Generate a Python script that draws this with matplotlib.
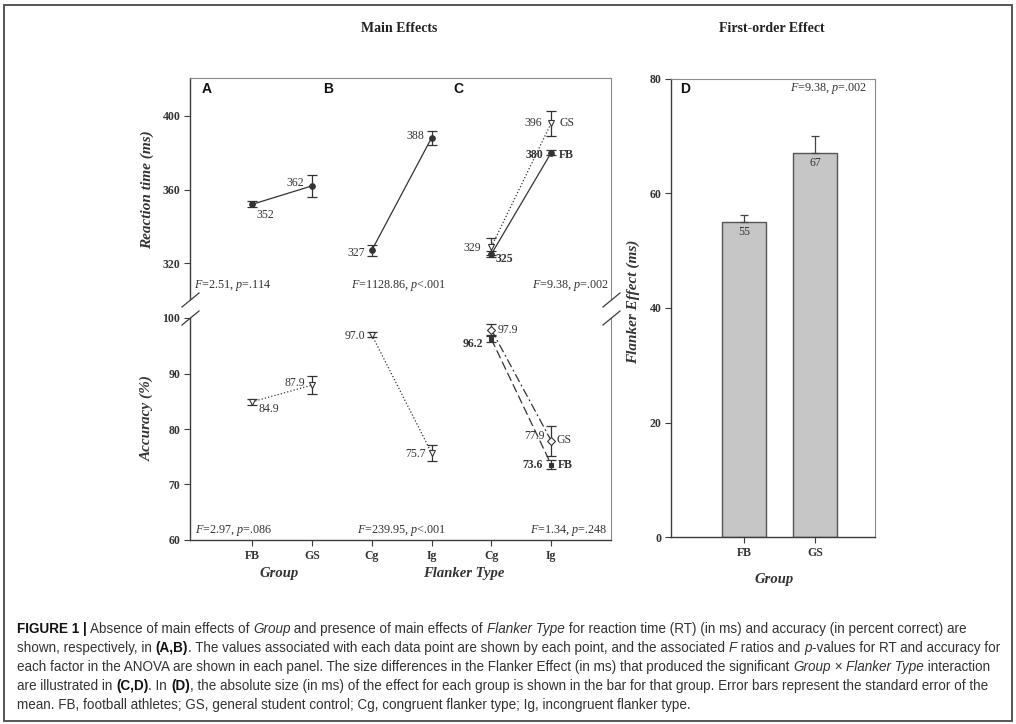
"""Main effects and first-order effect figure (flanker task, FB vs GS)."""

import matplotlib
matplotlib.use('Agg')
import matplotlib.pyplot as plt
from matplotlib import font_manager
from matplotlib.lines import Line2D
from matplotlib.patches import Rectangle

W, H = 1016, 724

# ---- data -------------------------------------------------------------
groups = ['FB', 'GS']
flanker_types = ['Cg', 'Ig']

rt_group = [352, 362]
rt_group_se = [1.6, 6.0]
rt_flanker = [327, 388]
rt_flanker_se = [3.2, 4.0]
rt_fb = [325, 380]
rt_fb_se = [1.5, 1.5]
rt_gs = [329, 396]
rt_gs_se = [4.5, 6.7]

acc_group = [84.9, 87.9]
acc_group_se = [0.5, 1.6]
acc_flanker = [97.0, 75.7]
acc_flanker_se = [0.4, 1.4]
acc_fb = [96.2, 73.6]
acc_fb_se = [0.5, 0.8]
acc_gs = [97.9, 77.9]
acc_gs_se = [1.0, 2.7]

flanker_effect = [55, 67]
flanker_effect_se = [1.3, 3.0]

rt_stats = [('2.51', '=.114'), ('1128.86', '<.001'), ('9.38', '=.002')]
acc_stats = [('2.97', '=.086'), ('239.95', '<.001'), ('1.34', '=.248')]
d_stats = ('9.38', '=.002')

rt_ticks = [320, 360, 400]
acc_ticks = [60, 70, 80, 90, 100]
d_ticks = [0, 20, 40, 60, 80]

caption_lines = [
    [('FIGURE 1 |', 'b'), (' Absence of main effects of ', 'r'), ('Group', 'i'),
     (' and presence of main effects of ', 'r'), ('Flanker Type', 'i'),
     (' for reaction time (RT) (in ms) and accuracy (in percent correct) are', 'r')],
    [('shown, respectively, in ', 'r'), ('(A,B)', 'b'),
     ('. The values associated with each data point are shown by each point, and the associated ', 'r'),
     ('F', 'i'), (' ratios and ', 'r'), ('p', 'i'), ('-values for RT and accuracy for', 'r')],
    [('each factor in the ANOVA are shown in each panel. The size differences in the Flanker Effect '
      '(in ms) that produced the significant ', 'r'), ('Group', 'i'), (' \u00d7 ', 'r'),
     ('Flanker Type', 'i'), (' interaction', 'r')],
    [('are illustrated in ', 'r'), ('(C,D)', 'b'), ('. In ', 'r'), ('(D)', 'b'),
     (', the absolute size (in ms) of the effect for each group is shown in the bar for that group. '
      'Error bars represent the standard error of the', 'r')],
    [('mean. FB, football athletes; GS, general student control; Cg, congruent flanker type; '
      'Ig, incongruent flanker type.', 'r')],
]

# ---- style ------------------------------------------------------------
plt.rcParams['font.family'] = ['Liberation Serif', 'DejaVu Serif']
plt.rcParams['mathtext.fontset'] = 'custom'
plt.rcParams['mathtext.rm'] = 'Liberation Serif'
plt.rcParams['mathtext.it'] = 'Liberation Serif:italic'
plt.rcParams['mathtext.bf'] = 'Liberation Serif:bold'

INK = '#333333'
SPINE = '#3c3c3c'
FRAME = '#8a8a8a'

fig = plt.figure(figsize=(W / 100, H / 100), dpi=100)
fig.patch.set_facecolor('white')


def add_px_axes(left, top, right, bottom):
    return fig.add_axes([left / W, 1 - bottom / H, (right - left) / W, (bottom - top) / H])


def ftext(x, y, s, **kw):
    return fig.text(x / W, 1 - y / H, s, **kw)


def style_axis(ax):
    for side in ['top', 'right', 'bottom', 'left']:
        ax.spines[side].set_color(FRAME)
        ax.spines[side].set_linewidth(0.8)
    for side in ['left', 'bottom']:
        ax.spines[side].set_color(SPINE)
        ax.spines[side].set_linewidth(1.0)
    ax.tick_params(direction='out', length=4, width=0.8, color=SPINE,
                   labelsize=8.5, labelcolor=INK, pad=3)
    ax.set_facecolor('none')


def series(ax, xs, vals, se, ls, marker, filled, ms=4.5, dashes=None):
    ax.errorbar(xs, vals, yerr=se, fmt='none', ecolor=INK, elinewidth=0.9,
                capsize=3.5, capthick=0.9, zorder=2)
    line, = ax.plot(xs, vals, ls=ls, color=INK, lw=0.9, zorder=3)
    if dashes is not None:
        line.set_dashes(dashes)
    ax.plot(xs, vals, ls='none', marker=marker, ms=ms, mfc=INK if filled else 'white',
            mec=INK, mew=0.8, zorder=4)


def label(ax, x, y, s, dx, dy, ha, bold=False):
    ax.annotate(s, (x, y), xytext=(dx, -dy), textcoords='offset pixels', ha=ha, va='center',
                fontsize=8.5, color=INK, fontweight='bold' if bold else 'normal')


def stat_text(x, y, stat, ha):
    f_val, p_val = stat
    ftext(x, y, '$F$=' + f_val + ', $p$' + p_val, ha=ha, va='center', fontsize=8.7, color=INK)


# ---- panels A-C -----------------------------------------------------------
ax_rt = add_px_axes(190, 78, 611, 299)
ax_acc = add_px_axes(190, 318, 611, 540)
xlim = (-0.037, 7.0)

for ax in (ax_rt, ax_acc):
    style_axis(ax)
    ax.set_xlim(*xlim)

ax_rt.spines['bottom'].set_visible(False)
ax_rt.set_xticks([])
ax_rt.set_ylim(300.7, 420.5)
ax_rt.set_yticks(rt_ticks)
ax_rt.set_yticklabels([str(t) for t in rt_ticks], fontweight='bold')

ax_acc.spines['top'].set_visible(False)
ax_acc.set_ylim(60, 100)
ax_acc.set_yticks(acc_ticks)
ax_acc.set_yticklabels([str(t) for t in acc_ticks], fontweight='bold')
ax_acc.set_xticks([1, 2, 3, 4, 5, 6])
ax_acc.set_xticklabels(groups + flanker_types + flanker_types, fontweight='bold')

xa, xb, xc = [1, 2], [3, 4], [5, 6]

# reaction time
series(ax_rt, xa, rt_group, rt_group_se, '-', 'o', True, ms=4)
series(ax_rt, xb, rt_flanker, rt_flanker_se, '-', 'o', True, ms=4)
series(ax_rt, xc, rt_gs, rt_gs_se, ':', 'v', False, ms=4.5)
series(ax_rt, xc, rt_fb, rt_fb_se, '-', 'o', True, ms=4)

label(ax_rt, xa[0], rt_group[0], str(rt_group[0]), 4, 11, 'left')
label(ax_rt, xa[1], rt_group[1], str(rt_group[1]), -8, -3, 'right')
label(ax_rt, xb[0], rt_flanker[0], str(rt_flanker[0]), -7, 3, 'right')
label(ax_rt, xb[1], rt_flanker[1], str(rt_flanker[1]), -7, -2, 'right')
label(ax_rt, xc[1], rt_gs[1], str(rt_gs[1]), -9, 0, 'right')
label(ax_rt, xc[1], rt_gs[1], groups[1], 8, 0, 'left')
label(ax_rt, xc[1], rt_fb[1], str(rt_fb[1]), -8, 2, 'right', bold=True)
label(ax_rt, xc[1], rt_fb[1], groups[0], 8, 2, 'left', bold=True)
label(ax_rt, xc[0], rt_gs[0], str(rt_gs[0]), -10, 1, 'right')
label(ax_rt, xc[0], rt_fb[0], str(rt_fb[0]), 4, 5, 'left', bold=True)

# accuracy
series(ax_acc, xa, acc_group, acc_group_se, ':', 'v', False, ms=4.5)
series(ax_acc, xb, acc_flanker, acc_flanker_se, ':', 'v', False, ms=4.5)
series(ax_acc, xc, acc_fb, acc_fb_se, '--', 's', True, ms=3.5, dashes=(7, 3))
series(ax_acc, xc, acc_gs, acc_gs_se, '-.', 'D', False, ms=4, dashes=(7, 2.5, 1.5, 2.5))

label(ax_acc, xa[0], acc_group[0], f'{acc_group[0]:.1f}', 6, 7, 'left')
label(ax_acc, xa[1], acc_group[1], f'{acc_group[1]:.1f}', -7, -2, 'right')
label(ax_acc, xb[0], acc_flanker[0], f'{acc_flanker[0]:.1f}', -6, 1, 'right')
label(ax_acc, xb[1], acc_flanker[1], f'{acc_flanker[1]:.1f}', -6, 1, 'right')
label(ax_acc, xc[0], acc_gs[0], f'{acc_gs[0]:.1f}', 6, 0, 'left')
label(ax_acc, xc[0], acc_fb[0], f'{acc_fb[0]:.1f}', -8, 5, 'right', bold=True)
label(ax_acc, xc[1], acc_gs[1], f'{acc_gs[1]:.1f}', -6, -5, 'right')
label(ax_acc, xc[1], acc_gs[1], groups[1], 5, -1, 'left')
label(ax_acc, xc[1], acc_fb[1], f'{acc_fb[1]:.1f}', -8, 0, 'right', bold=True)
label(ax_acc, xc[1], acc_fb[1], groups[0], 7, 0, 'left', bold=True)

# axis breaks
for bx in (190, 611):
    for by in (300, 318):
        fig.add_artist(Line2D([(bx - 8) / W, (bx + 9) / W], [1 - (by + 7) / H, 1 - (by - 7) / H],
                              color=SPINE, lw=0.9))

# stats
stat_text(194, 285, rt_stats[0], 'left')
stat_text(446, 285, rt_stats[1], 'right')
stat_text(609, 285, rt_stats[2], 'right')
stat_text(195, 530, acc_stats[0], 'left')
stat_text(446, 530, acc_stats[1], 'right')
stat_text(607, 530, acc_stats[2], 'right')

# ---- panel D --------------------------------------------------------------
ax_d = add_px_axes(671, 79, 875, 537)
style_axis(ax_d)
xd = [0, 1]
ax_d.bar(xd, flanker_effect, width=0.62, color='#c6c6c6', edgecolor='#555555', linewidth=1.0, zorder=2)
ax_d.errorbar(xd, flanker_effect, yerr=[[0, 0], flanker_effect_se], fmt='none', ecolor='#444444',
              elinewidth=0.9, capsize=3, capthick=0.9, zorder=3)
for x, v in zip(xd, flanker_effect):
    ax_d.annotate(str(v), (x, v), xytext=(0, -10), textcoords='offset pixels', ha='center',
                  va='center', fontsize=8.5, color=INK)
ax_d.set_xlim(-1.028, 1.845)
ax_d.set_ylim(0, 80)
ax_d.set_yticks(d_ticks)
ax_d.set_yticklabels([str(t) for t in d_ticks], fontweight='bold')
ax_d.set_xticks(xd)
ax_d.set_xticklabels(groups, fontweight='bold')
stat_text(867, 88, d_stats, 'right')

# ---- titles, labels, panel letters ---------------------------------------
ftext(399, 28, 'Main Effects', ha='center', va='center', fontsize=10, fontweight='bold', color='#222')
ftext(772, 28, 'First-order Effect', ha='center', va='center', fontsize=10, fontweight='bold',
      color='#222')

ylab = dict(rotation=90, ha='center', va='center', fontsize=11, fontstyle='italic',
            fontweight='bold', color=INK)
ftext(147, 190, 'Reaction time (ms)', **ylab)
ftext(147, 418, 'Accuracy (%)', **ylab)
ftext(633, 302, 'Flanker Effect (ms)', **ylab)

xlab = dict(ha='center', va='center', fontsize=10.5, fontstyle='italic', fontweight='bold', color=INK)
ftext(279, 573, 'Group', **xlab)
ftext(464, 573, 'Flanker Type', **xlab)
ftext(774, 579, 'Group', **xlab)

for x, s in [(207, 'A'), (328, 'B'), (458, 'C'), (685, 'D')]:
    ftext(x, 89, s, ha='center', va='center', fontsize=10, fontweight='bold',
          family=['Liberation Sans', 'DejaVu Sans'], color='#111')

# ---- outer frame and caption ---------------------------------------------
fig.add_artist(Rectangle((4 / W, 1 - 721 / H), 1008 / W, 716 / H, transform=fig.transFigure,
                         fill=False, edgecolor='#555555', linewidth=1.4))

try:
    font_manager.findfont(font_manager.FontProperties(family='Liberation Sans Narrow'),
                          fallback_to_default=False)
    cap_family = 'Liberation Sans Narrow'
except ValueError:
    cap_family = 'Liberation Sans'

renderer = fig.canvas.get_renderer()


def cap_prop(style, size):
    return font_manager.FontProperties(family=cap_family, size=size,
                                       weight='bold' if style == 'b' else 'normal',
                                       style='italic' if style == 'i' else 'normal')


def advance(s, style, size):
    prop = cap_prop(style, size)
    w1 = renderer.get_text_width_height_descent('x' + s + 'x', prop, ismath=False)[0]
    w0 = renderer.get_text_width_height_descent('xx', prop, ismath=False)[0]
    return w1 - w0


# fit the longest line to the reference width
base = 10.0
line_w = sum(advance(s, st, base) for s, st in caption_lines[1])
cap_size = base * 984 / line_w

for i, parts in enumerate(caption_lines):
    x = 17
    y = 633 + 19 * i
    for s, st in parts:
        ftext(x, y, s, ha='left', va='baseline', fontproperties=cap_prop(st, cap_size),
              color='#111' if st == 'b' else '#333')
        x += advance(s, st, cap_size)

fig.savefig('out.png', dpi=100, facecolor='white')
